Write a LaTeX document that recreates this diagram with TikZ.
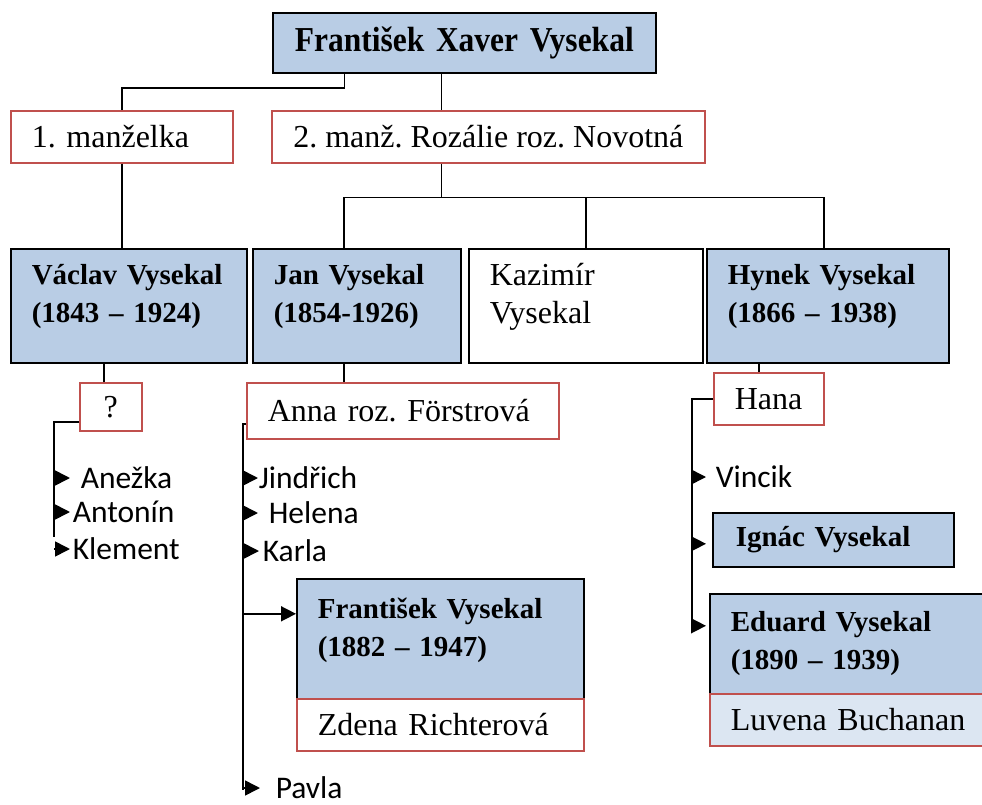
\documentclass[tikz,border=0pt]{standalone}
\usepackage{fontspec}
\setmainfont{Liberation Serif}
\newfontfamily\kidfont{Carlito}
\newfontfamily\topfont{Liberation Serif}[FakeStretch=0.9]
\usepackage{xcolor}
\usepackage{tikz}
\usetikzlibrary{arrows.meta,positioning,calc}
\definecolor{boxblue}{RGB}{185,205,229}
\definecolor{boxbluepale}{RGB}{220,230,242}
\definecolor{spousered}{RGB}{192,80,77}

\begin{document}
\frenchspacing
\begin{tikzpicture}[x=1pt,y=-1pt,line width=1.6pt,font=\fontsize{32}{38}\selectfont,
    >={Triangle[length=15pt,width=15pt]},
    person/.style={draw,fill=boxblue,anchor=north west,align=left,inner xsep=21pt,
                   font=\fontsize{29}{38}\selectfont\bfseries},
    twoline/.style={text depth=62pt},
    spouse/.style={draw=spousered,fill=white,anchor=north west,align=left,inner xsep=21pt},
    kid/.style={anchor=west,inner sep=0pt,text height=20pt,text depth=0pt,
                font=\kidfont\fontsize{31.5}{36}\selectfont},
    link/.style={draw=black},
    tip/.style={->,shorten >=#1}]

  \useasboundingbox (0,0) rectangle (982,805);

  \node[person,align=center,text width=341pt,minimum height=60pt,
        font=\topfont\bfseries\fontsize{35}{40}\selectfont] (top) at (272,12) {František~Xaver~Vysekal};

  \node[spouse,text width=180pt,minimum height=52pt] (wife1) at (10,110) {1. manželka};
  \node[spouse,inner xsep=0pt,minimum width=433pt,minimum height=52pt] (wife2) at (271,110) {2. manž. Rozálie roz. Novotná};

  \node[person,twoline,text width=194pt,minimum height=114pt] (vaclav) at (10,248) {Václav~Vysekal\\(1843 – 1924)};
  \node[person,twoline,text width=166pt,minimum height=114pt] (jan) at (252,248) {Jan~Vysekal\\(1854-1926)};
  \node[person,twoline,fill=white,font=\fontsize{32}{38}\selectfont,text width=192pt,minimum height=114pt]
        (kazimir) at (468,248) {Kazimír\\Vysekal};
  \node[person,twoline,text width=200pt,minimum height=114pt] (hynek) at (706,248) {Hynek~Vysekal\\(1866 – 1938)};

  \node[spouse,inner xsep=0pt,minimum width=62pt,minimum height=48pt] (qmark) at (79,382) {?};
  \node[spouse,text width=270pt,minimum height=56pt] (anna) at (246,382) {Anna roz. Förstrová};
  \node[spouse,text width=68pt,minimum height=52pt] (hana) at (713,372) {Hana};

  \node[kid] (anezka) at (80,478) {Anežka};
  \node[kid] (antonin) at (72,512) {Antonín};
  \node[kid] (klement) at (72,549) {Klement};

  \node[kid] (jindrich) at (258,478) {Jindřich};
  \node[kid] (helena) at (268,513) {Helena};
  \node[kid] (karla) at (262,551) {Karla};
  \node[person,twoline,text width=245pt,minimum height=120pt] (frantisek) at (296,578) {František~Vysekal\\(1882 – 1947)};
  \node[spouse,text width=245pt,minimum height=52pt] (zdena) at (296,698) {Zdena Richterová};
  \node[kid] (pavla) at (275,788) {Pavla};

  \node[kid] (vincik) at (715,477) {Vincik};
  \node[person,inner xsep=23pt,text width=195pt,minimum height=54pt] (ignac) at (712,512) {Ignác~Vysekal};
  \node[person,text width=258pt,minimum height=100pt] (eduard) at (709,593) {Eduard~Vysekal\\(1890 – 1939)};
  \node[spouse,fill=boxbluepale,text width=258pt,minimum height=52pt] (luvena) at (709,693) {Luvena Buchanan};

  \draw[link] (wife1.north) -- ++(0,-22) -| ([xshift=-120pt]top.south);
  \draw[link] ([xshift=-23pt]top.south) -- ([xshift=-23pt]top.south |- wife2.north);
  \draw[link] (wife1.south) -- (wife1.south |- vaclav.north);
  \draw[link] ([xshift=-47pt]wife2.south) -- ++(0,34) coordinate (bar);
  \draw[link] ([xshift=-13pt]jan.north) |- (bar) -| ([xshift=-4pt]hynek.north);
  \draw[link] (kazimir.north) -- (kazimir.north |- bar);

  \draw[link] ([xshift=-7pt]qmark.north) -- ([xshift=-7pt]qmark.north |- vaclav.south);
  \draw[link] ([xshift=-13pt]jan.south) -- ([xshift=-13pt]jan.south |- anna.north);
  \draw[link] ([xshift=-10pt]hana.north) -- ([xshift=-10pt]hana.north |- hynek.south);

  \coordinate (qend) at (54,537);
  \draw[link] ([yshift=-15pt]qmark.west) -| (qend);
  \draw[link,tip=10pt] (qend |- anezka) -- (anezka.west);
  \draw[link,tip=2pt] (qend |- antonin) -- (antonin.west);
  \draw[link,tip=2pt] (qend |- klement) -- (klement.west);

  \coordinate (aend) at (243,790);
  \coordinate (fin) at ([yshift=25pt]frantisek.west);
  \draw[link] ([yshift=-13pt]anna.west) -| (aend);
  \draw[link,tip=0pt] (aend |- jindrich) -- (jindrich.west);
  \draw[link,tip=10pt] (aend |- helena) -- (helena.west);
  \draw[link,tip=3pt] (aend |- karla) -- (karla.west);
  \draw[link,tip=0pt] (aend |- fin) -- (fin);
  \draw[link,tip=15pt] (aend |- pavla) -- (pavla.west);

  \coordinate (hend) at (692,627);
  \coordinate (iin) at ([yshift=-4pt]ignac.west);
  \coordinate (ein) at ([yshift=18pt]eduard.west);
  \draw[link] (hana.west) -| (hend);
  \draw[link,tip=9pt] (hend |- vincik) -- (vincik.west);
  \draw[link,tip=6pt] (hend |- iin) -- (iin);
  \draw[link,tip=3pt] (hend |- ein) -- (ein);

\end{tikzpicture}
\end{document}
